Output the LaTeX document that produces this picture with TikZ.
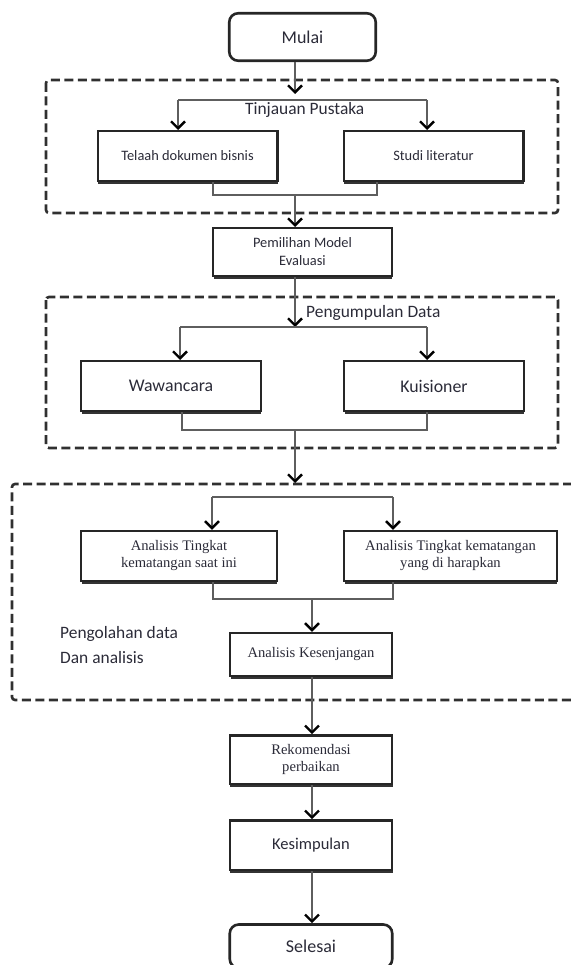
\documentclass[tikz,border=0pt]{standalone}
\usepackage{fontspec}
\setmainfont{Carlito}
\newfontfamily\calibf{Carlito}
\newfontfamily\timesf{Liberation Serif}
\usetikzlibrary{positioning, arrows.meta, shadows}
\definecolor{InkGrey}{HTML}{2B2B38}
\definecolor{LinkGrey}{HTML}{5E5E5E}
\definecolor{FrameGrey}{HTML}{303030}

\begin{document}
\begin{tikzpicture}[
  x=1pt, y=-1pt,
  terminal/.style={rectangle, rounded corners=9pt, draw=black!85, line width=2.6pt, fill=white, text=InkGrey, minimum width=162.5pt, minimum height=43.5pt, font=\calibf\fontsize{18}{21}\selectfont},
  proc/.style={rectangle, draw=black!85, line width=2.4pt, fill=white, text=InkGrey, align=center, inner sep=1pt, minimum width=179.6pt, minimum height=49.6pt, drop shadow={shadow xshift=0.5pt, shadow yshift=-3pt, fill=black!80, opacity=1}},
  bigtxt/.style={font=\calibf\fontsize{17.8}{21}\selectfont},
  smalltxt/.style={font=\calibf\fontsize{14.4}{18}\selectfont},
  sertxt/.style={font=\timesf\fontsize{14.6}{17}\selectfont},
  grplabel/.style={text=InkGrey, inner sep=0pt, font=\calibf\fontsize{17.4}{25}\selectfont},
  grp/.style={draw=FrameGrey, line width=2.6pt, dash pattern=on 9pt off 4.5pt, rounded corners=3pt},
  lnk/.style={draw=LinkGrey, line width=1.3pt},
  arr/.style={lnk, -{Straight Barb[length=7pt, width=14pt, line width=2.4pt, color=black]}},
]
\useasboundingbox (0,0) rectangle (570,965);

% dashed groups
\draw[grp] (46,80) rectangle (558,213);
\draw[grp] (46,297) rectangle (558,448);
\draw[grp] (572,484) -- (12,484) -- (12,700) -- (572,700);

\node[terminal, minimum width=146.5pt, minimum height=47.5pt] (mulai) at (302.5,37) {Mulai};

\node[grplabel] (tinjauan) at (304.7,110) {Tinjauan Pustaka};
\node[proc, smalltxt] (telaah) at (187.5,156) {Telaah dokumen bisnis};
\node[proc, smalltxt, right=64pt of telaah] (studi) {Studi literatur};

\node[proc, smalltxt, minimum width=178.6pt, minimum height=47.6pt] (pemilihan) at (302.5,252) {Pemilihan Model\\Evaluasi};

\node[grplabel, anchor=west] (kumpul) at (306,313) {Pengumpulan Data};
\node[proc, bigtxt] (wawancara) at (171,386) {Wawancara};
\node[proc, bigtxt] (kuisioner) at (434,386) {Kuisioner};

\node[proc, sertxt, minimum width=195.6pt, minimum height=50pt] (saatini) at (179,556) {Analisis Tingkat\\kematangan saat ini};
\node[proc, sertxt, minimum width=212.6pt, minimum height=50pt] (harapan) at (450.5,556) {Analisis Tingkat kematangan\\yang di harapkan};
\node[grplabel, anchor=west, align=left] (olah) at (60,645) {Pengolahan data\\Dan analisis};
\node[proc, sertxt, minimum width=162pt, minimum height=43pt] (kesenjangan) at (311,654.5) {Analisis Kesenjangan};

\node[proc, sertxt, minimum width=162.5pt, minimum height=48.6pt, below=57pt of kesenjangan] (rekomendasi) {Rekomendasi\\perbaikan};
\node[proc, font=\calibf\fontsize{16.5}{20}\selectfont, minimum width=162.5pt, below=34pt of rekomendasi] (kesimpulan) {Kesimpulan};
\node[terminal, below=52pt of kesimpulan] (selesai) {Selesai};

% junctions
\coordinate (b1) at (295,100);
\coordinate (b1l) at (178,100);
\coordinate (b1r) at (427,100);
\coordinate (m1) at (295,195);
\coordinate (m1l) at (213,195);
\coordinate (m1r) at (377,195);
\coordinate (b2) at (295,327);
\coordinate (b2l) at (180,327);
\coordinate (b2r) at (427,327);
\coordinate (m2) at (295,430);
\coordinate (m2l) at (182,430);
\coordinate (m2r) at (427,430);
\coordinate (g3top) at (295,483);
\coordinate (b3l) at (212,497);
\coordinate (b3r) at (393,497);
\coordinate (m3) at (312,599);
\coordinate (m3l) at (213,599);
\coordinate (m3r) at (393,599);

% connectors
\draw[arr, shorten >=6pt] (b1 |- mulai.south) -- (b1);
\draw[lnk] (b1l) -- (b1r);
\draw[arr] (b1l) -- (b1l |- telaah.north);
\draw[arr] (b1r) -- (b1r |- studi.north);
\draw[lnk] (m1l |- telaah.south) -- (m1l) -- (m1r) -- (m1r |- studi.south);
\draw[arr] (m1) -- (m1 |- pemilihan.north);

\draw[arr] (b2 |- pemilihan.south) -- (b2);
\draw[lnk] (b2l) -- (b2r);
\draw[arr] (b2l) -- (b2l |- wawancara.north);
\draw[arr] (b2r) -- (b2r |- kuisioner.north);
\draw[lnk] (m2l |- wawancara.south) -- (m2l) -- (m2r) -- (m2r |- kuisioner.south);
\draw[arr] (m2) -- (g3top);

\draw[lnk] (b3l) -- (b3r);
\draw[arr] (b3l) -- (b3l |- saatini.north);
\draw[arr] (b3r) -- (b3r |- harapan.north);
\draw[lnk] (m3l |- saatini.south) -- (m3l) -- (m3r) -- (m3r |- harapan.south);
\draw[arr] (m3) -- (m3 |- kesenjangan.north);

\draw[arr] (m3 |- kesenjangan.south) -- (m3 |- rekomendasi.north);
\draw[arr] (m3 |- rekomendasi.south) -- (m3 |- kesimpulan.north);
\draw[arr] (m3 |- kesimpulan.south) -- (m3 |- selesai.north);

\end{tikzpicture}
\end{document}
